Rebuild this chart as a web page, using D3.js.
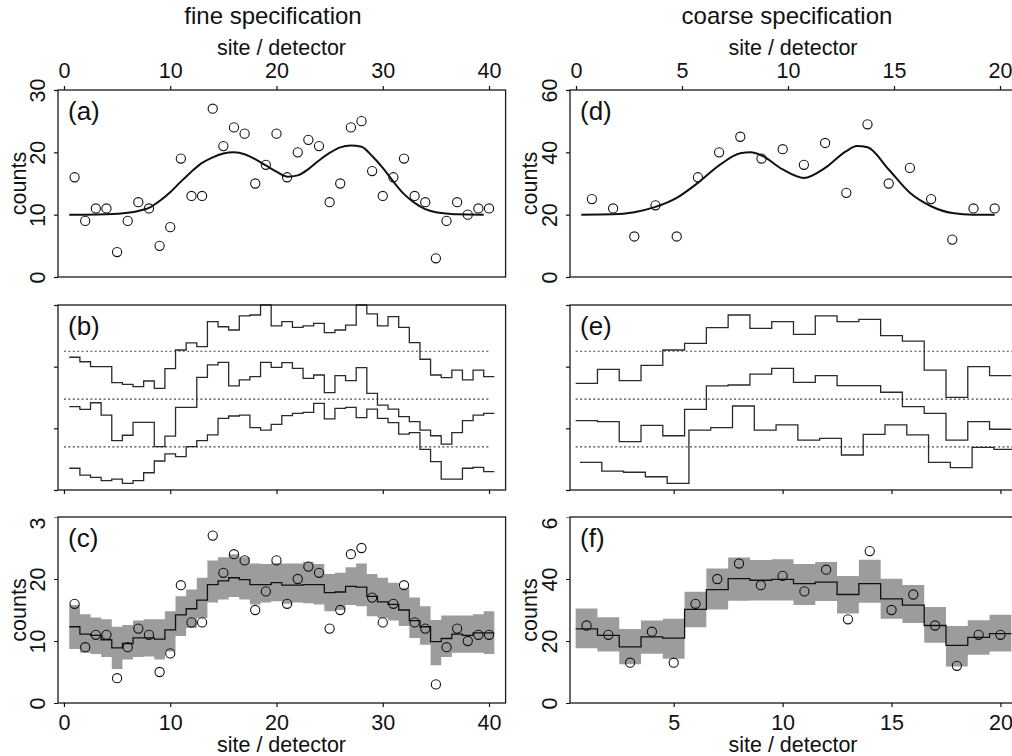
<!DOCTYPE html>
<html>
<head>
<meta charset="utf-8">
<script src="https://cdn.jsdelivr.net/npm/d3@7"></script>
<style>
  body { margin: 0; background: #fff; }
  svg { display: block; font-family: "Liberation Sans", Arial, sans-serif; }
</style>
</head>
<body>
<svg id="chart" width="1012" height="756"></svg>
<script>
// ---- data ----
const fineSites = d3.range(1, 41);
const coarseSites = d3.range(1, 21);

const fineCounts = [16, 9, 11, 11, 4, 9, 12, 11, 5, 8, 19, 13, 13, 27, 21, 24, 23, 15, 18, 23,
                    16, 20, 22, 21, 12, 15, 24, 25, 17, 13, 16, 19, 13, 12, 3, 9, 12, 10, 11, 11];
const coarseCounts = [25, 22, 13, 23, 13, 32, 40, 45, 38, 41, 36, 43, 27, 49, 30, 35, 25, 12, 22, 22];

// true intensity curves, panels (a) and (d)
const fineCurveX = [0.5, 2, 4, 6, 7, 8, 9, 10, 11, 12, 13, 14, 15, 16, 17, 18, 19, 20, 21, 22,
                    23, 24, 25, 26, 27, 28, 29, 30, 31, 32, 33, 34, 35, 36, 37, 39.5];
const fineCurveY = [10.0, 10.0, 10.05, 10.3, 10.6, 11.1, 12.2, 13.6, 15.3, 16.9, 18.3, 19.2, 19.8, 20.0, 19.7, 18.9, 17.9, 16.9, 16.1, 16.3,
                    17.3, 18.7, 19.9, 20.8, 21.1, 20.9, 19.4, 17.5, 15.3, 13.3, 11.9, 10.9, 10.4, 10.2, 10.05, 10.0];
const coarseCurveX = [0.5, 2, 3, 4, 5, 6, 7, 8, 8.5, 9, 10, 11, 12, 13, 13.5, 14, 15, 16, 17, 18, 19, 20];
const coarseCurveY = [20.0, 20.1, 20.8, 22.5, 25.4, 30.2, 35.8, 39.7, 40.0, 39.0, 34.5, 31.8, 35.0, 40.4, 42.0, 41.6, 34.5, 27.0, 22.7, 20.5, 20.0, 20.0];

// sampled profiles, panels (b) and (e) (arbitrary units, offset around the dotted baselines)
const fineSpec1 = [8.61, 8.32, 8.0, 8.0, 6.96, 6.85, 6.7, 7.07, 6.59, 7.87, 9.08, 9.54, 9.3, 10.92, 10.59, 10.38, 11.29, 11.35, 12.0, 10.64,
                   10.92, 10.55, 10.64, 10.81, 10.21, 10.38, 10.7, 12.0, 11.42, 10.64, 11.24, 10.55, 9.56, 8.48, 7.46, 7.29, 7.78, 7.14, 7.78, 7.35];
const fineSpec2 = [5.41, 5.23, 5.66, 4.86, 3.2, 3.55, 4.39, 4.39, 2.81, 3.5, 5.36, 5.36, 7.31, 8.11, 8.28, 6.75, 7.14, 7.35, 8.28, 7.96,
                   8.26, 7.89, 7.24, 7.46, 6.31, 7.42, 7.09, 7.94, 6.27, 5.51, 5.25, 4.76, 4.43, 3.89, 3.52, 2.98, 3.72, 4.5, 4.86, 4.97];
const fineSpec3 = [1.41, 0.97, 0.82, 0.61, 0.71, 0.43, 0.61, 1.12, 1.88, 2.34, 2.16, 2.81, 3.2, 3.57, 4.65, 4.8, 4.86, 4.04, 3.89, 4.26,
                   4.82, 4.97, 5.04, 5.62, 4.61, 5.3, 5.36, 4.69, 5.25, 4.65, 4.37, 3.63, 3.72, 2.64, 1.84, 0.71, 0.71, 1.41, 1.47, 1.19];
const coarseSpec1 = [6.92, 7.83, 7.09, 8.09, 9.08, 9.51, 10.53, 11.35, 10.49, 10.92, 10.1, 11.29, 10.92, 11.07, 10.01, 9.66, 7.78, 6.01, 8.0, 7.42];
const coarseSpec2 = [4.5, 4.43, 3.14, 4.19, 3.52, 5.23, 6.75, 6.81, 7.52, 7.89, 6.98, 7.42, 6.77, 6.77, 6.34, 5.41, 4.97, 3.24, 4.43, 3.94];
const coarseSpec3 = [1.79, 1.23, 1.15, 0.86, 0.43, 3.89, 4.04, 5.45, 3.89, 4.22, 3.24, 3.35, 2.27, 3.61, 4.22, 3.57, 1.79, 1.45, 2.77, 2.64];
const specBaselines = [9.0, 5.9, 2.8];
const coarseSpecShift = [0, 0, 0.2];

// reconstruction with band, panels (c) and (f)
const fineFit = [12.3, 11.1, 10.9, 10.2, 8.9, 9.6, 10.5, 10.5, 10.3, 11.8, 14.2, 15.2, 16.6, 19.1, 19.7, 20.2, 19.9, 19.1, 19.1, 19.4,
                 19.0, 19.0, 19.1, 19.1, 17.8, 17.9, 18.8, 18.7, 17.2, 16.3, 15.9, 15.0, 13.3, 12.3, 9.9, 10.4, 11.1, 10.9, 11.3, 11.3];
const fineUpper = [15.8, 14.3, 13.8, 13.5, 12.3, 12.6, 13.3, 13.5, 13.5, 14.8, 17.2, 18.3, 20.2, 23.0, 23.5, 24.0, 23.5, 22.5, 22.4, 22.6,
                   22.5, 22.5, 22.8, 22.4, 20.8, 21.0, 21.9, 22.5, 20.8, 20.2, 19.4, 18.6, 17.0, 15.6, 13.4, 14.1, 14.1, 14.1, 14.3, 14.8];
const fineLower = [8.7, 8.1, 7.9, 7.4, 5.5, 7.0, 7.4, 7.5, 7.0, 8.3, 10.8, 12.1, 13.7, 16.2, 16.7, 17.1, 16.7, 15.9, 16.2, 16.4,
                   16.0, 16.2, 16.1, 15.9, 14.8, 15.0, 15.8, 15.6, 14.0, 13.7, 13.3, 12.4, 10.5, 9.4, 6.1, 7.4, 8.1, 8.1, 8.1, 7.9];
const coarseFit = [23.9, 21.8, 18.1, 21.3, 20.9, 30.2, 36.6, 40.1, 39.6, 39.9, 38.5, 39.0, 35.0, 38.5, 33.6, 31.6, 25.0, 18.6, 21.2, 22.4];
const coarseUpper = [30.5, 27.7, 23.9, 26.6, 27.2, 35.9, 43.4, 46.9, 46.1, 46.4, 44.8, 45.5, 41.0, 46.2, 40.1, 38.1, 31.0, 24.8, 26.7, 28.5];
const coarseLower = [17.7, 16.6, 12.5, 15.9, 14.3, 24.4, 30.2, 33.0, 33.1, 33.1, 31.6, 32.9, 28.9, 32.3, 27.2, 25.8, 19.4, 11.8, 15.6, 16.6];

const fineTicks = [0, 10, 20, 30, 40];
const coarseTopTicks = [0, 5, 10, 15, 20];
const coarseBottomTicks = [5, 10, 15, 20];
const countTicksFine = [0, 10, 20, 30];
const countTicksCoarse = [0, 20, 40, 60];
const specTicks = [0, 4, 8, 12];

// ---- layout ----
const svg = d3.select("#chart");
const fontFamily = '"Liberation Sans", Arial, sans-serif';

const cols = {
    fine: { left: 58, right: 505.6 },
    coarse: { left: 570, right: 1017 }
};
const rows = {
    top: { top: 90, bottom: 277 },
    mid: { top: 305, bottom: 490 },
    bot: { top: 517, bottom: 703 }
};

const xFine = d3.scaleLinear().domain([-0.56, 41.56]).range([cols.fine.left, cols.fine.right]);
const xCoarse = d3.scaleLinear().domain([0.24, 20.76]).range([cols.coarse.left, cols.coarse.right]);
const xCoarseD = d3.scaleLinear().domain([0, 20]).range([570.7, 994.7]);
const xDetCoarse = d3.scaleLinear().domain([0, 20]).range([576, 1000]);

const yA = d3.scaleLinear().domain([0, 30]).range([rows.top.bottom, rows.top.top]);
const yD = d3.scaleLinear().domain([0, 60]).range([rows.top.bottom, rows.top.top]);
const yB = d3.scaleLinear().domain([0, 12]).range([rows.mid.bottom, rows.mid.top]);
const yC = d3.scaleLinear().domain([0, 30]).range([rows.bot.bottom, rows.bot.top]);
const yF = d3.scaleLinear().domain([0, 60]).range([rows.bot.bottom, rows.bot.top]);

const defs = svg.append("defs");

function frame(col, row) {
    svg.append("rect")
        .attr("x", col.left).attr("y", row.top)
        .attr("width", col.right - col.left).attr("height", row.bottom - row.top)
        .attr("fill", "none").attr("stroke", "#1a1a1a").attr("stroke-width", 1.3);
}

function styleAxis(g) {
    g.attr("font-size", 21.5).attr("font-family", fontFamily).attr("color", "#111");
    g.select(".domain").remove();
    g.selectAll(".tick line").attr("stroke-width", 1.2);
}

function leftAxis(scale, x0, ticks, showLabels, clipTop) {
    const outer = svg.append("g");
    if (clipTop !== undefined) {
        const id = "clip" + Math.round(clipTop) + "_" + Math.round(x0);
        defs.append("clipPath").attr("id", id)
            .append("rect").attr("x", 0).attr("y", clipTop).attr("width", 1012).attr("height", 756 - clipTop);
        outer.attr("clip-path", `url(#${id})`);
    }
    const g = outer.append("g")
        .attr("transform", `translate(${x0},0)`)
        .call(d3.axisLeft(scale).tickValues(ticks).tickSize(4).tickSizeOuter(0)
            .tickFormat(showLabels ? d3.format("d") : () => ""));
    styleAxis(g);
    g.selectAll(".tick text")
        .attr("transform", "rotate(-90)")
        .attr("x", 0).attr("y", -13).attr("dy", 0)
        .attr("text-anchor", "middle");
}

function topAxis(scale, y0, ticks) {
    const g = svg.append("g")
        .attr("transform", `translate(0,${y0})`)
        .call(d3.axisTop(scale).tickValues(ticks).tickSize(4).tickPadding(8).tickSizeOuter(0));
    styleAxis(g);
}

function bottomAxis(scale, y0, ticks, showLabels) {
    const g = svg.append("g")
        .attr("transform", `translate(0,${y0})`)
        .call(d3.axisBottom(scale).tickValues(ticks).tickSize(4).tickPadding(8).tickSizeOuter(0)
            .tickFormat(showLabels ? d3.format("d") : () => ""));
    styleAxis(g);
}

function label(text, x, y, size, rotate) {
    const t = svg.append("text")
        .attr("font-size", size).attr("font-family", fontFamily)
        .attr("text-anchor", "middle").attr("fill", "#111")
        .text(text);
    if (rotate) t.attr("transform", `translate(${x},${y}) rotate(-90)`);
    else t.attr("x", x).attr("y", y);
}

function panelTag(text, col, row) {
    svg.append("text")
        .attr("x", col.left + 10).attr("y", row.top + 30)
        .attr("font-size", 26).attr("font-family", fontFamily).attr("fill", "#111")
        .text(text);
}

function circles(x, y, sites, counts) {
    svg.append("g").selectAll("circle")
        .data(sites.map((s, i) => ({ s, c: counts[i] })))
        .join("circle")
        .attr("cx", d => x(d.s)).attr("cy", d => y(d.c)).attr("r", 4.6)
        .attr("fill", "none").attr("stroke", "#111").attr("stroke-width", 1.1);
}

function curve(x, y, xs, ys) {
    svg.append("path")
        .datum(xs.map((v, i) => [v, ys[i]]))
        .attr("d", d3.line().x(d => x(d[0])).y(d => y(d[1])).curve(d3.curveMonotoneX))
        .attr("fill", "none").attr("stroke", "#111").attr("stroke-width", 2);
}

// step table: value i covers [site-0.5, site+0.5]
function stepRows(sites, values, shift) {
    const rowsOut = sites.map((s, i) => ({ x: s - 0.5 + shift, v: values[i] }));
    rowsOut.push({ x: sites[sites.length - 1] + 0.5 + shift, v: values[values.length - 1] });
    return rowsOut;
}

function stepLine(x, y, sites, values, shift, color, width) {
    svg.append("path")
        .datum(stepRows(sites, values, shift))
        .attr("d", d3.line().x(d => x(d.x)).y(d => y(d.v)).curve(d3.curveStepAfter))
        .attr("fill", "none").attr("stroke", color).attr("stroke-width", width);
}

function band(x, y, sites, lower, upper) {
    const lo = stepRows(sites, lower, 0);
    const hi = stepRows(sites, upper, 0);
    svg.append("path")
        .datum(lo.map((d, i) => ({ x: d.x, lo: d.v, hi: hi[i].v })))
        .attr("d", d3.area().x(d => x(d.x)).y0(d => y(d.lo)).y1(d => y(d.hi)).curve(d3.curveStepAfter))
        .attr("fill", "#9c9c9c");
}

function baselines(x, y, x0, x1) {
    svg.append("g").selectAll("line")
        .data(specBaselines)
        .join("line")
        .attr("x1", x(x0)).attr("x2", x(x1))
        .attr("y1", d => y(d)).attr("y2", d => y(d))
        .attr("stroke", "#444").attr("stroke-width", 1.2).attr("stroke-dasharray", "2,2.4");
}

// ---- column titles ----
label("fine specification", 273, 24, 24);
label("coarse specification", 787, 24, 24);
label("site / detector", 281.5, 55, 21.5);
label("site / detector", 793, 55, 21.5);
label("site / detector", 281.5, 752, 21.5);
label("site / detector", 793, 752, 21.5);
label("counts", 26, (rows.top.top + rows.top.bottom) / 2, 21.5, true);
label("counts", 26, (rows.bot.top + rows.bot.bottom) / 2, 21.5, true);
label("counts", 537, (rows.top.top + rows.top.bottom) / 2, 21.5, true);
label("counts", 537, (rows.bot.top + rows.bot.bottom) / 2, 21.5, true);

// ---- (a) ----
curve(xFine, yA, fineCurveX, fineCurveY);
circles(xFine, yA, fineSites, fineCounts);
frame(cols.fine, rows.top);
topAxis(xFine, rows.top.top, fineTicks);
leftAxis(yA, cols.fine.left, countTicksFine, true);
panelTag("(a)", cols.fine, rows.top);

// ---- (b) ----
baselines(xFine, yB, 0, 40);
[fineSpec1, fineSpec2, fineSpec3].forEach(s => stepLine(xFine, yB, fineSites, s, 0, "#2a2a2a", 1.3));
frame(cols.fine, rows.mid);
bottomAxis(xFine, rows.mid.bottom, fineTicks, false);
leftAxis(yB, cols.fine.left, specTicks, false);
panelTag("(b)", cols.fine, rows.mid);

// ---- (c) ----
band(xFine, yC, fineSites, fineLower, fineUpper);
stepLine(xFine, yC, fineSites, fineFit, 0, "#111", 1.3);
circles(xFine, yC, fineSites, fineCounts);
frame(cols.fine, rows.bot);
bottomAxis(xFine, rows.bot.bottom, fineTicks, true);
leftAxis(yC, cols.fine.left, countTicksFine, true, rows.bot.top + 0.5);
panelTag("(c)", cols.fine, rows.bot);

// ---- (d) ----
curve(xCoarseD, yD, coarseCurveX, coarseCurveY);
circles(xCoarseD, yD, coarseSites, coarseCounts);
frame(cols.coarse, rows.top);
topAxis(xDetCoarse, rows.top.top, coarseTopTicks);
leftAxis(yD, cols.coarse.left, countTicksCoarse, true);
panelTag("(d)", cols.coarse, rows.top);

// ---- (e) ----
baselines(xCoarse, yB, 0.5, 21);
[coarseSpec1, coarseSpec2, coarseSpec3].forEach((s, i) =>
    stepLine(xCoarse, yB, coarseSites, s, coarseSpecShift[i], "#2a2a2a", 1.3));
frame(cols.coarse, rows.mid);
bottomAxis(xCoarse, rows.mid.bottom, coarseBottomTicks, false);
leftAxis(yB, cols.coarse.left, specTicks, false);
panelTag("(e)", cols.coarse, rows.mid);

// ---- (f) ----
band(xCoarse, yF, coarseSites, coarseLower, coarseUpper);
stepLine(xCoarse, yF, coarseSites, coarseFit, 0, "#111", 1.3);
circles(xCoarse, yF, coarseSites, coarseCounts);
frame(cols.coarse, rows.bot);
bottomAxis(xCoarse, rows.bot.bottom, coarseBottomTicks, true);
leftAxis(yF, cols.coarse.left, countTicksCoarse, true, rows.bot.top + 0.5);
panelTag("(f)", cols.coarse, rows.bot);
</script>
</body>
</html>
